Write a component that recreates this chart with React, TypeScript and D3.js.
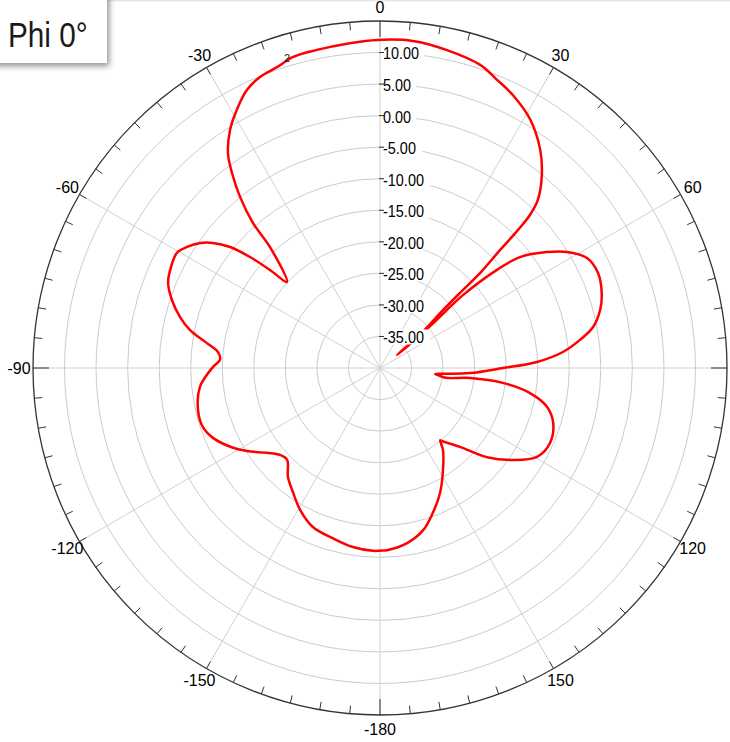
import React from "react";
import * as d3 from "d3";

// Radiation pattern, Phi 0° cut (angle in degrees, clockwise from top; gain in dB)
const ANGLES = [
  -180, -177.8, -171.4, -164.5, -157.1, -150.6, -145.2, -139.8, -134.7, -131.0,
  -126.9, -122.0, -118.5, -112.7, -108.4, -103.0, -96.0, -89.7, -87.1, -84.4,
  -81.5, -78.7, -75.7, -71.9, -68.1, -65.0, -60.5, -57.9, -55.2, -53.2,
  -51.1, -49.5, -48.3, -47.2, -42.3, -41.2, -39.3, -37.2, -35.3, -32.2,
  -29.0, -25.6, -22.4, -18.9, -15.6, -11.2, -5.3, -0.5, 5.7, 11.9,
  18.3, 22.1, 26.0, 31.2, 36.3, 40.0, 43.2, 44.4, 45.0, 45.5,
  46.5, 46.8, 47.4, 49.7, 52.6, 51.3, 49.9, 48.7, 50.0, 51.6,
  55.2, 58.2, 62.0, 66.5, 71.3, 75.2, 79.1, 82.0, 85.0, 87.8,
  90.0, 93.2, 95.15, 96.2, 96.9, 98.5, 96.3, 96.9, 99.5, 103.1, 107.6, 113.8,
  119.5, 124.7, 129.8, 134.6, 139.7, 140.2, 142.5, 148.3, 154.4, 160.1,
  165.1, 171.2, 177.8,
];
const GAIN_DB = [
  -11.05, -11.0, -11.3, -12.0, -12.65, -14.2, -15.9, -17.4, -19.3, -19.0,
  -17.6, -15.15, -13.5, -11.3, -10.4, -10.4, -11.3, -13.5, -14.6, -14.2,
  -12.0, -9.3, -7.3, -5.3, -3.8, -3.3, -3.0, -3.9, -5.3, -6.9,
  -9.45, -12.9, -16.65, -19.9, -14.1, -9.4, -5.0, -1.2, 1.7, 4.6,
  6.8, 8.85, 9.9, 10.4, 11.2, 11.4, 11.7, 12.0, 12.1, 11.5,
  10.6, 9.3, 8.1, 6.0, 2.9, -0.1, -3.45, -6.0, -9.1, -13.3,
  -18.1, -22.6, -26.4, -31.0, -36.6, -33.3, -29.0, -22.5, -15.8, -11.7,
  -7.8, -5.1, -2.85, -2.3, -2.9, -3.9, -5.6, -8.0, -10.9, -15.1,
  -20.5, -25.7, -29.86, -31.2, -30.8, -29.5, -25.6, -20.4, -15.9, -12.8, -11.2, -10.55,
  -11.4, -14.4, -17.9, -22.2, -24.8, -25.1, -23.6, -21.0, -18.0, -15.5,
  -13.4, -11.9, -11.1,
];

const RING_DB = [15, 10, 5, 0, -5, -10, -15, -20, -25, -30, -35];
const RING_LABELS = [10, 5, 0, -5, -10, -15, -20, -25, -30, -35];
const ANGLE_LABELS = [0, 30, 60, 120, 150, -180, -150, -120, -90, -60, -30];
const SPOKE_ANGLES = [0, 30, 60, 90, 120, 150, 180, 210, 240, 270, 300, 330];
const TICK_ANGLES = d3.range(0, 360, 5);
const TITLE = "Phi 0°";

const W = 730;
const H = 742;
const CX = 380;
const CY = 368;
const R = 347;

export default function App() {
  const r = d3.scaleLinear().domain([-40, 15]).range([0, R]);
  const rad = (deg: number) => (deg * Math.PI) / 180;
  const px = (deg: number, rr: number) => rr * Math.sin(rad(deg));
  const py = (deg: number, rr: number) => -rr * Math.cos(rad(deg));

  const pts = ANGLES.map((a, i) => ({ a, v: GAIN_DB[i] }));
  const line = d3
    .lineRadial<{ a: number; v: number }>()
    .angle((d) => rad(d.a))
    .radius((d) => r(d.v))
    .curve(d3.curveCatmullRomClosed.alpha(0.5));

  const labelFont = "'Liberation Sans', Arial, Helvetica, sans-serif";

  return (
    <svg
      width={W}
      height={H}
      style={{ position: "absolute", left: 0, top: 0, background: "#fff" }}
    >
      <defs>
        <filter id="shadow" x="-20%" y="-20%" width="150%" height="160%">
          <feDropShadow dx="2" dy="3" stdDeviation="3" floodColor="#000" floodOpacity="0.45" />
        </filter>
      </defs>
      <rect x={0} y={0} width={W} height={H} fill="#fff" />
      <rect x={0} y={0} width={W} height={1.5} fill="#e8e8e8" />
      <g transform={`translate(${CX},${CY})`}>
        {/* rings */}
        {RING_DB.slice(1).map((v) => (
          <circle key={v} r={r(v)} fill="none" stroke="#cccccc" strokeWidth={1} />
        ))}
        {/* spokes */}
        {SPOKE_ANGLES.map((a) => (
          <line
            key={a}
            x1={0}
            y1={0}
            x2={px(a, R)}
            y2={py(a, R)}
            stroke="#d0d0d0"
            strokeWidth={1}
          />
        ))}
        {/* outer circle */}
        <circle r={R} fill="none" stroke="#333" strokeWidth={1.3} />
        {/* ticks */}
        {TICK_ANGLES.map((a) => {
          const len = a % 90 === 0 ? 16 : 8;
          return (
            <line
              key={a}
              x1={px(a, R)}
              y1={py(a, R)}
              x2={px(a, R - len)}
              y2={py(a, R - len)}
              stroke="#333"
              strokeWidth={1}
            />
          );
        })}
        {/* pattern */}
        <path d={line(pts) || ""} fill="none" stroke="#ff0000" strokeWidth={2.5} strokeLinejoin="round" />
        {/* ring labels */}
        {RING_LABELS.map((v) => {
          const y = -r(v) + 1;
          const txt = v.toFixed(2);
          const w = (txt.length * 9.2 - (txt.includes("-") ? 2 : 0)) * 0.85;
          return (
            <g key={v}>
              <rect x={3} y={y - 8} width={w + 2} height={15} fill="#fff" />
              <line x1={-1} y1={y - 1} x2={4} y2={y - 1} stroke="#333" strokeWidth={1} />
              <text
                transform={`translate(3,${y}) scale(0.85,1)`}
                fontFamily={labelFont}
                fontSize={17}
                dominantBaseline="central"
                fill="#000"
              >
                {txt}
              </text>
            </g>
          );
        })}
        {/* angle labels */}
        {ANGLE_LABELS.map((a) => (
          <text
            key={a}
            x={px(a, 361)}
            y={py(a, 361)}
            textAnchor="middle"
            dominantBaseline="central"
            fontFamily={labelFont}
            fontSize={16}
            fill="#000"
          >
            {a}
          </text>
        ))}
        <text x={-96} y={-306} fontFamily={labelFont} fontSize={11} fill="#222">
          2
        </text>
      </g>
      {/* title box */}
      <rect x={-10} y={-10} width={117} height={73} fill="#fff" filter="url(#shadow)" />
      <text
        transform="translate(8,47) scale(0.85,1)"
        fontFamily={labelFont}
        fontSize={35}
        fill="#1a1a1a"
      >
        {TITLE}
      </text>
    </svg>
  );
}
